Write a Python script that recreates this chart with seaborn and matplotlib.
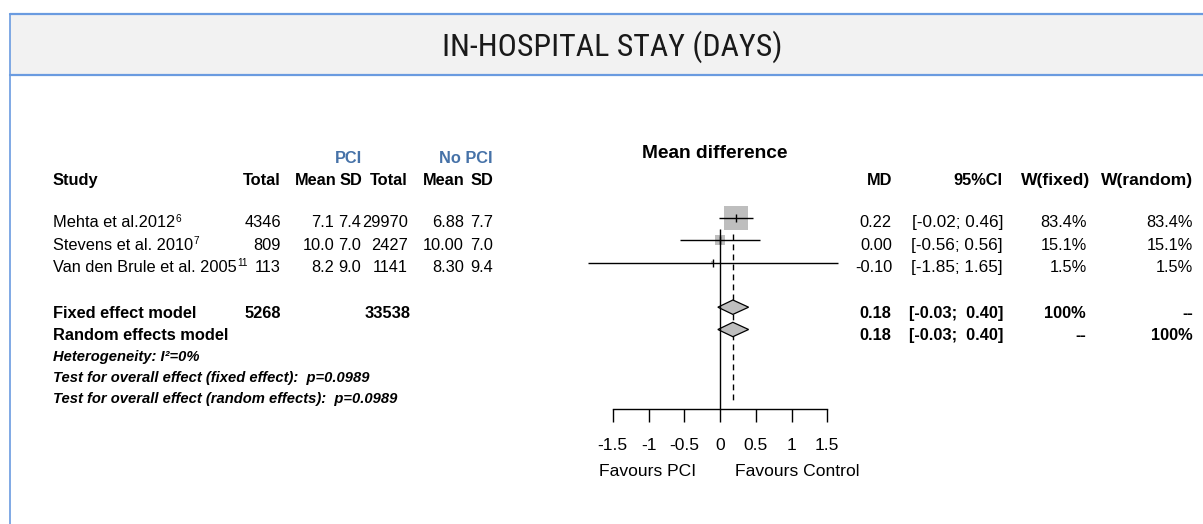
import numpy as np
import pandas as pd
import matplotlib
matplotlib.use("Agg")
import matplotlib.pyplot as plt
from matplotlib import font_manager
from matplotlib.transforms import blended_transform_factory
from matplotlib.patches import Rectangle
from matplotlib.lines import Line2D
from matplotlib.ticker import FormatStrFormatter
import seaborn as sns

# ---------------- data ----------------
studies = ["Mehta et al.2012", "Stevens et al. 2010", "Van den Brule et al. 2005"]
refs = ["6", "7", "11"]
pci_total = [4346, 809, 113]
pci_mean = [7.1, 10.0, 8.2]
pci_sd = [7.4, 7.0, 9.0]
ctrl_total = [29970, 2427, 1141]
ctrl_mean = [6.88, 10.00, 8.30]
ctrl_sd = [7.7, 7.0, 9.4]
md = [0.22, 0.00, -0.10]
ci_low = [-0.02, -0.56, -1.85]
ci_high = [0.46, 0.56, 1.65]
w_fixed = [83.4, 15.1, 1.5]
w_random = [83.4, 15.1, 1.5]

pooled_labels = ["Fixed effect model", "Random effects model"]
pooled_md = [0.18, 0.18]
pooled_low = [-0.03, -0.03]
pooled_high = [0.40, 0.40]
pooled_wf = ["100%", "--"]
pooled_wr = ["--", "100%"]
total_pci = 5268
total_ctrl = 33538

notes = ["Heterogeneity: I\u00b2=0%",
         "Test for overall effect (fixed effect):  p=0.0989",
         "Test for overall effect (random effects):  p=0.0989"]
xticks = [-1.5, -1, -0.5, 0, 0.5, 1, 1.5]

# ---------------- fonts ----------------
sns.set_theme(style="white")
body = ["Liberation Sans", "DejaVu Sans"]
fs = 11.8
# a regular-weight condensed face for the banner title, if one is installed
title_family = body
for cand in ["Roboto Condensed", "Open Sans Condensed", "Liberation Sans Narrow"]:
    faces = [f for f in font_manager.fontManager.ttflist if f.name == cand]
    if any(int(f.weight) <= 400 if str(f.weight).isdigit() else f.weight in ("light", "normal", "regular")
           for f in faces):
        title_family = [cand, "DejaVu Sans"]
        break
plt.rcParams["font.family"] = body
plt.rcParams["axes.unicode_minus"] = False
plt.rcParams["text.color"] = "black"
plt.rcParams["xtick.color"] = "black"

W, H = 1203, 524
fig = plt.figure(figsize=(W / 100, H / 100), dpi=100)
fig.patch.set_facecolor("white")

# header band with blue rules and left frame line
blue = "#6a9be0"
fig.patches.append(Rectangle((10 / W, 1 - 75 / H), 1, 61 / H, transform=fig.transFigure,
                             facecolor="#f2f2f2", edgecolor="none", zorder=0))
for yy in (14, 75):
    fig.add_artist(Line2D([10 / W, 1], [1 - yy / H] * 2, color=blue, lw=1.6))
fig.add_artist(Line2D([10 / W] * 2, [0, 1 - 14 / H], color=blue, lw=1.2))
title = fig.text(612 / W, 1 - 47 / H, "IN-HOSPITAL STAY (DAYS)", ha="center", va="center",
                 fontsize=19, family=title_family, fontweight="normal", color="#1a1a1a")
# size the title so that it spans the intended width
renderer = fig.canvas.get_renderer()
tw = title.get_window_extent(renderer).width
title.set_fontsize(19 * 340.0 / tw)

# ---------------- forest panel ----------------
ROW_PX, ROW0 = 22.3, 218.0          # pixel height of a row, pixel of first study row
UNIT_PX, ZERO_PX = 71.5, 720.0      # pixels per unit of MD, pixel of MD = 0
left_px, right_px, top_px, bot_px = 560, 880, 130, 430
ax = fig.add_axes([left_px / W, 1 - bot_px / H, (right_px - left_px) / W, (bot_px - top_px) / H])
ax.set_xlim((left_px - ZERO_PX) / UNIT_PX, (right_px - ZERO_PX) / UNIT_PX)
ax.set_ylim((bot_px - ROW0) / ROW_PX, (top_px - ROW0) / ROW_PX)
ax.patch.set_alpha(0)


def row(px):
    return (px - ROW0) / ROW_PX


study_rows = np.arange(len(studies))
pooled_rows = np.array([4.0, 5.0])
axis_row = row(408.5)

df = pd.DataFrame({"md": md, "row": study_rows, "w": w_fixed})

# confidence intervals
ax.hlines(df["row"], ci_low, ci_high, color="black", lw=1.0, zorder=3)
# weight squares: area proportional to weight
k = 3.58
sns.scatterplot(data=df, x="md", y="row", size="w", sizes=(min(w_fixed) * k, max(w_fixed) * k),
                size_norm=(min(w_fixed), max(w_fixed)), marker="s", color="#bebebe",
                linewidth=0, legend=False, ax=ax, zorder=2)
# point estimate ticks
sns.scatterplot(data=df, x="md", y="row", marker="|", s=30, color="black",
                linewidth=1.0, legend=False, ax=ax, zorder=4)

# reference line at zero and pooled estimate
ax.vlines(0, row(229), axis_row, color="black", lw=1.0, zorder=6)
ax.vlines(pooled_md[1], row(234), row(403), color="black", lw=1.0,
          linestyles=(0, (4.2, 3.0)), zorder=1)

# pooled diamonds
h = 7.2 / ROW_PX
for r, lo, est, hi in zip(pooled_rows, pooled_low, pooled_md, pooled_high):
    ax.fill([lo, est, hi, est], [r, r - h, r, r + h], facecolor="#bebebe",
            edgecolor="black", lw=0.9, zorder=5)

# axis
for s in ("left", "right", "top"):
    ax.spines[s].set_visible(False)
ax.spines["bottom"].set_position(("data", axis_row))
ax.spines["bottom"].set_bounds(xticks[0], xticks[-1])
ax.spines["bottom"].set_color("black")
ax.spines["bottom"].set_linewidth(1.0)
ax.set_xticks(xticks)
ax.xaxis.set_major_formatter(FormatStrFormatter("%g"))
ax.tick_params(axis="x", direction="out", length=9, width=1.0, color="black",
               labelcolor="black", labelsize=12.6, pad=12, bottom=True)
ax.set_yticks([])
ax.set_xlabel("")
ax.set_ylabel("")
ax.grid(False)

ax.text(-1.02, row(476), "Favours PCI", ha="center", va="baseline", fontsize=12.6, clip_on=False)
ax.text(1.08, row(476), "Favours Control", ha="center", va="baseline", fontsize=12.6, clip_on=False)
ax.text(-0.07, row(158), "Mean difference", ha="center", va="baseline", fontsize=13.8,
        fontweight="bold", clip_on=False)

# ---------------- table text ----------------
T = blended_transform_factory(fig.transFigure, ax.transData)


def put(px, r, s, ha="right", size=None, **kw):
    return ax.text(px / W, r, s, transform=T, ha=ha, va="baseline",
                   fontsize=fs if size is None else size, clip_on=False, **kw)


pci_blue = "#4672a8"
hdr = row(185)
put(362, row(162.7), "PCI", fontweight="bold", color=pci_blue)
put(493, row(162.7), "No PCI", fontweight="bold", color=pci_blue)
put(53, hdr, "Study", ha="left", fontweight="bold")
for px, lab in [(281, "Total"), (337, "Mean"), (362, "SD"), (408, "Total"), (465, "Mean"),
                (493, "SD"), (892, "MD"), (1003, "95%CI")]:
    put(px, hdr, lab, fontweight="bold")
put(1090, hdr, "W(fixed)", fontweight="bold", size=12.6)
put(1193, hdr, "W(random)", fontweight="bold", size=12.6)

off = 0.42
for i, r in enumerate(study_rows):
    b = r + off
    t = put(53, b, studies[i], ha="left")
    ax.annotate(refs[i], xy=(1, 0), xycoords=t, xytext=(0.2, 4.9), textcoords="offset points",
                ha="left", va="bottom", fontsize=fs * 0.62)
    put(281, b, f"{pci_total[i]}")
    put(334, b, f"{pci_mean[i]:.1f}")
    put(361, b, f"{pci_sd[i]:.1f}")
    put(408, b, f"{ctrl_total[i]}")
    put(464, b, f"{ctrl_mean[i]:.2f}")
    put(493, b, f"{ctrl_sd[i]:.1f}")
    put(892, b, f"{md[i]:.2f}")
    put(1003, b, f"[{ci_low[i]:.2f}; {ci_high[i]:.2f}]", size=12.3)
    put(1087, b, f"{w_fixed[i]:.1f}%")
    put(1193, b, f"{w_random[i]:.1f}%")

for j, r in enumerate(pooled_rows):
    b = r + 0.48
    put(53, b, pooled_labels[j], ha="left", fontweight="bold")
    put(891, b, f"{pooled_md[j]:.2f}", fontweight="bold")
    put(1003, b, f"[{pooled_low[j]:.2f};  {pooled_high[j]:.2f}]", fontweight="bold")
    put(1086, b, pooled_wf[j], fontweight="bold")
    put(1193, b, pooled_wr[j], fontweight="bold")
put(281, pooled_rows[0] + 0.48, f"{total_pci}", fontweight="bold")
put(411, pooled_rows[0] + 0.48, f"{total_ctrl}", fontweight="bold")

for px_base, s in zip((360.7, 381.7, 403.0), notes):
    put(53, row(px_base), s, ha="left", size=fs * 0.9, fontweight="bold", fontstyle="italic")

fig.savefig("out.png", dpi=100, facecolor="white")
